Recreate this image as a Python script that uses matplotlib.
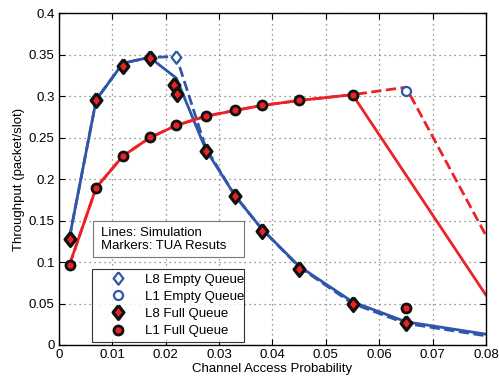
import numpy as np
import matplotlib.pyplot as plt
from matplotlib.lines import Line2D
from matplotlib.patches import Rectangle

plt.rcParams['font.family'] = ['Liberation Sans', 'DejaVu Sans']

# simulation curves
x_sim = [0.002, 0.007, 0.012, 0.017, 0.022, 0.0275, 0.033, 0.038, 0.045, 0.055, 0.065, 0.08]
l8_full_sim = [0.130, 0.296, 0.340, 0.347, 0.322, 0.236, 0.180, 0.140, 0.095, 0.052, 0.028, 0.013]
l8_empty_sim = [0.130, 0.296, 0.340, 0.347, 0.348, 0.238, 0.180, 0.140, 0.094, 0.050, 0.026, 0.011]

x_red = [0.002, 0.007, 0.012, 0.017, 0.022, 0.0275, 0.033, 0.038, 0.045, 0.055, 0.08]
l1_full_sim = [0.097, 0.190, 0.228, 0.250, 0.265, 0.276, 0.283, 0.289, 0.295, 0.302, 0.060]
x_red_empty = [0.002, 0.007, 0.012, 0.017, 0.022, 0.0275, 0.033, 0.038, 0.045, 0.055, 0.065, 0.08]
l1_empty_sim = [0.097, 0.190, 0.228, 0.250, 0.265, 0.276, 0.283, 0.289, 0.295, 0.302, 0.311, 0.132]

# TUA results (markers)
x_l8_full = [0.002, 0.007, 0.012, 0.017, 0.0215, 0.0222, 0.0275, 0.033, 0.038, 0.045, 0.055, 0.065]
l8_full_tua = [0.128, 0.295, 0.337, 0.346, 0.314, 0.303, 0.234, 0.180, 0.138, 0.092, 0.050, 0.026]
x_l1_full = [0.002, 0.007, 0.012, 0.017, 0.022, 0.0275, 0.033, 0.038, 0.045, 0.055, 0.065]
l1_full_tua = [0.097, 0.190, 0.228, 0.251, 0.265, 0.276, 0.283, 0.289, 0.295, 0.302, 0.044]
x_l8_empty = [0.022]
l8_empty_tua = [0.347]
x_l1_empty = [0.065]
l1_empty_tua = [0.307]

blue = '#2f56a8'
red = '#ee2226'
fs = 9.5

# diamond a bit taller than wide, like the matlab one
diamond = [(0, 1), (0.78, 0), (0, -1), (-0.78, 0), (0, 1)]

dia_full = dict(marker=diamond, ms=10, mfc=red, mec='#111111', mew=2.3, ls='none')
circ_full = dict(marker='o', ms=6.5, mfc=red, mec='#111111', mew=2.0, ls='none')
dia_empty = dict(marker=diamond, ms=9, mfc='white', mec=blue, mew=1.6, ls='none')
circ_empty = dict(marker='o', ms=6.5, mfc='white', mec=blue, mew=1.6, ls='none')

fig = plt.figure(figsize=(4.99, 3.85), dpi=100)
ax = fig.add_axes([0.118, 0.104, 0.856, 0.861])

ax.plot(x_sim, l8_empty_sim, '--', color=blue, lw=2)
ax.plot(x_sim, l8_full_sim, '-', color=blue, lw=2)
ax.plot(x_red_empty, l1_empty_sim, '--', color=red, lw=2)
ax.plot(x_red, l1_full_sim, '-', color=red, lw=2)

ax.plot(x_l8_full, l8_full_tua, **dia_full)
ax.plot(x_l1_full, l1_full_tua, **circ_full)
ax.plot(x_l8_empty, l8_empty_tua, **dia_empty)
ax.plot(x_l1_empty, l1_empty_tua, **circ_empty)

ax.set_xlim(0, 0.08)
ax.set_ylim(0, 0.4)
ax.set_xticks(np.arange(0, 0.081, 0.01))
ax.set_xticklabels(['0', '0.01', '0.02', '0.03', '0.04', '0.05', '0.06', '0.07', '0.08'])
ax.set_yticks(np.arange(0, 0.401, 0.05))
ax.set_yticklabels(['0', '0.05', '0.1', '0.15', '0.2', '0.25', '0.3', '0.35', '0.4'])
ax.tick_params(direction='in', top=True, right=True, labelsize=fs, length=4, width=0.8, pad=3)
ax.grid(True, ls=(0, (1, 3)), color='#777777', lw=0.9)
for s in ax.spines.values():
    s.set_linewidth(1.0)
ax.set_xlabel('Channel Access Probability', fontsize=fs, labelpad=1)
ax.set_ylabel('Throughput (packet/slot)', fontsize=fs, labelpad=3)

# note box
ax.add_patch(Rectangle((0.0796, 0.265), 0.353, 0.109, transform=ax.transAxes,
                       fc='white', ec='#777777', lw=0.8, zorder=5))
ax.text(0.098, 0.318, 'Lines: Simulation\nMarkers: TUA Resuts', transform=ax.transAxes,
        fontsize=fs, linespacing=1.2, va='center', ha='left', zorder=6)

handles = [Line2D([], [], **dia_empty), Line2D([], [], **circ_empty),
           Line2D([], [], **dia_full), Line2D([], [], **circ_full)]
labels = ['L8 Empty Queue', 'L1 Empty Queue', 'L8 Full Queue', 'L1 Full Queue']
leg = ax.legend(handles, labels, loc='lower left', bbox_to_anchor=(0.077, 0.009, 0.356, 0.2),
                mode='expand', fontsize=fs, frameon=True, fancybox=False, edgecolor='black',
                handlelength=3.2, handletextpad=0.5, borderpad=0.35, labelspacing=0.38,
                borderaxespad=0)
leg.get_frame().set_linewidth(0.8)

fig.savefig('out.png', dpi=100)
